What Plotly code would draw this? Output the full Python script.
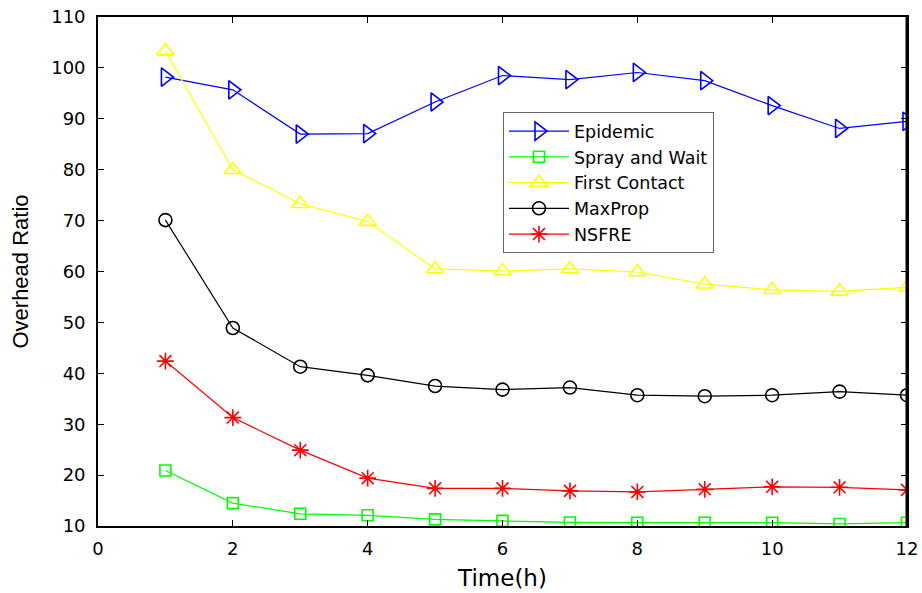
import plotly.graph_objects as go

time_h = [1, 2, 3, 4, 5, 6, 7, 8, 9, 10, 11, 12]
epidemic = [98.2, 95.7, 87.0, 87.1, 93.3, 98.5, 97.7, 99.1, 97.5, 92.6, 88.1, 89.5]
spray_wait = [20.9, 14.5, 12.4, 12.1, 11.3, 11.0, 10.7, 10.65, 10.65, 10.65, 10.4, 10.65]
first_contact = [103.3, 80.0, 73.3, 69.8, 60.5, 60.1, 60.5, 59.9, 57.5, 56.4, 56.1, 56.9]
maxprop = [70.1, 48.9, 41.3, 39.6, 37.5, 36.8, 37.2, 35.7, 35.5, 35.7, 36.4, 35.7]
nsfre = [42.4, 31.3, 24.9, 19.4, 17.4, 17.4, 16.9, 16.7, 17.2, 17.7, 17.6, 17.1]

x_ticks = [0, 2, 4, 6, 8, 10, 12]
y_ticks = [10, 20, 30, 40, 50, 60, 70, 80, 90, 100, 110]

series = [
    ("Epidemic", epidemic, "#0000ff", "triangle-right-open", 16),
    ("Spray and Wait", spray_wait, "#00ff00", "square-open", 11),
    ("First Contact", first_contact, "#ffff00", "triangle-up-open", 15),
    ("MaxProp", maxprop, "#000000", "circle-open", 13),
    ("NSFRE", nsfre, "#ff0000", "asterisk-open", 14),
]

fig = go.Figure()
for name, vals, color, sym, size in series:
    fig.add_trace(go.Scatter(
        x=time_h, y=vals, name=name, mode="lines+markers",
        line=dict(color=color, width=1.2),
        marker=dict(symbol=sym, size=size, color=color, line=dict(color=color, width=1.6)),
    ))

wide = "DejaVu Sans, Verdana, sans-serif"
arial = "Liberation Sans, Arial, sans-serif"
fig.update_layout(
    width=922, height=593,
    margin=dict(l=97.5, r=15, t=16.5, b=67),
    paper_bgcolor="white", plot_bgcolor="white",
    font=dict(family=wide, size=18, color="black"),
    showlegend=True,
    legend=dict(
        x=0.5006, y=0.813, xanchor="left", yanchor="top",
        bordercolor="#666666", borderwidth=1, bgcolor="white",
        font=dict(family=wide, size=17.5, color="black"),
        tracegroupgap=0, itemwidth=60,
    ),
    xaxis=dict(
        range=[0, 12], tickvals=x_ticks, ticktext=[str(v) for v in x_ticks],
        showgrid=False, zeroline=False, showline=True, linecolor="black", linewidth=1.5,
        mirror="ticks", ticks="inside", ticklen=6, tickcolor="black", tickwidth=1,
        title=dict(text="Time(h)", font=dict(family=wide, size=23), standoff=12),
        tickfont=dict(family=wide, size=18), ticklabelstandoff=6,
        automargin=False,
    ),
    yaxis=dict(
        range=[10, 110], tickvals=y_ticks, ticktext=[str(v) for v in y_ticks],
        showgrid=False, zeroline=False, showline=True, linecolor="black", linewidth=1.7,
        mirror="ticks", ticks="inside", ticklen=6, tickcolor="black", tickwidth=1,
        title=dict(text="Overhead Ratio", font=dict(family=arial, size=22), standoff=16),
        tickfont=dict(family=wide, size=18), ticklabelstandoff=7,
        automargin=False,
    ),
)
fig.add_shape(type="line", xref="paper", yref="paper", x0=1, x1=1, y0=0, y1=1,
              line=dict(color="black", width=3))

fig.write_html("out.html")
